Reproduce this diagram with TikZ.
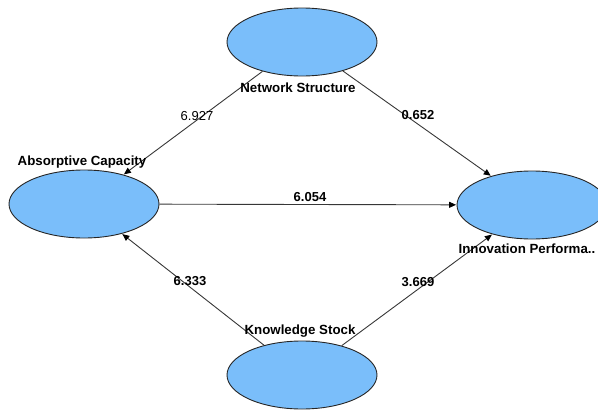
\documentclass[tikz,border=0pt]{standalone}
\usepackage{fontspec}
\setmainfont{Liberation Sans}
\usetikzlibrary{shapes.geometric,arrows.meta}
\definecolor{lvfill}{RGB}{122,190,250}
\definecolor{edgegray}{RGB}{55,55,55}
\tikzset{
  lv/.style={ellipse, draw=black!85, line width=0.9pt, fill=lvfill, minimum width=150pt, minimum height=68pt, inner sep=0pt},
  lvlabel/.style={font=\fontsize{13.3}{15}\selectfont\bfseries, text=black, inner sep=0pt},
  wlabel/.style={font=\fontsize{13}{15}\selectfont\bfseries, text=black, inner sep=0pt},
  wlabelr/.style={font=\fontsize{13}{15}\selectfont, text=black, inner sep=0pt},
  path/.style={draw=edgegray, line width=0.9pt, -{Triangle[length=7pt,width=6pt,fill=black,color=black]}, shorten >=0.5pt}
}
\begin{document}
\begin{tikzpicture}[x=1pt,y=-1pt]
\useasboundingbox (0,0) rectangle (598,410);
\node[lv] (ns) at (302,42) {};
\node[lv] (ac) at (84,204) {};
\node[lv] (ip) at (532,205) {};
\node[lv] (ks) at (302,375) {};
\draw[path] (ns) -- (ac);
\draw[path] (ns) -- (ip);
\draw[path] (ac) -- (ip);
\draw[path] (ks) -- (ac);
\draw[path] (ks) -- (ip);
\node[lvlabel] (nsl) at (298,88) {Network Structure};
\node[lvlabel] (acl) at (82,162) {Absorptive Capacity};
\node[lvlabel] (ipl) at (527,249) {Innovation Performa..};
\node[lvlabel] (ksl) at (300,331) {Knowledge Stock};
\node[wlabelr] (w1) at (197,116) {6.927};
\node[wlabel] (w2) at (418,115) {0.652};
\node[wlabel] (w3) at (310,197) {6.054};
\node[wlabel] (w4) at (190,281) {6.333};
\node[wlabel] (w5) at (418,282) {3.669};
\end{tikzpicture}
\end{document}
